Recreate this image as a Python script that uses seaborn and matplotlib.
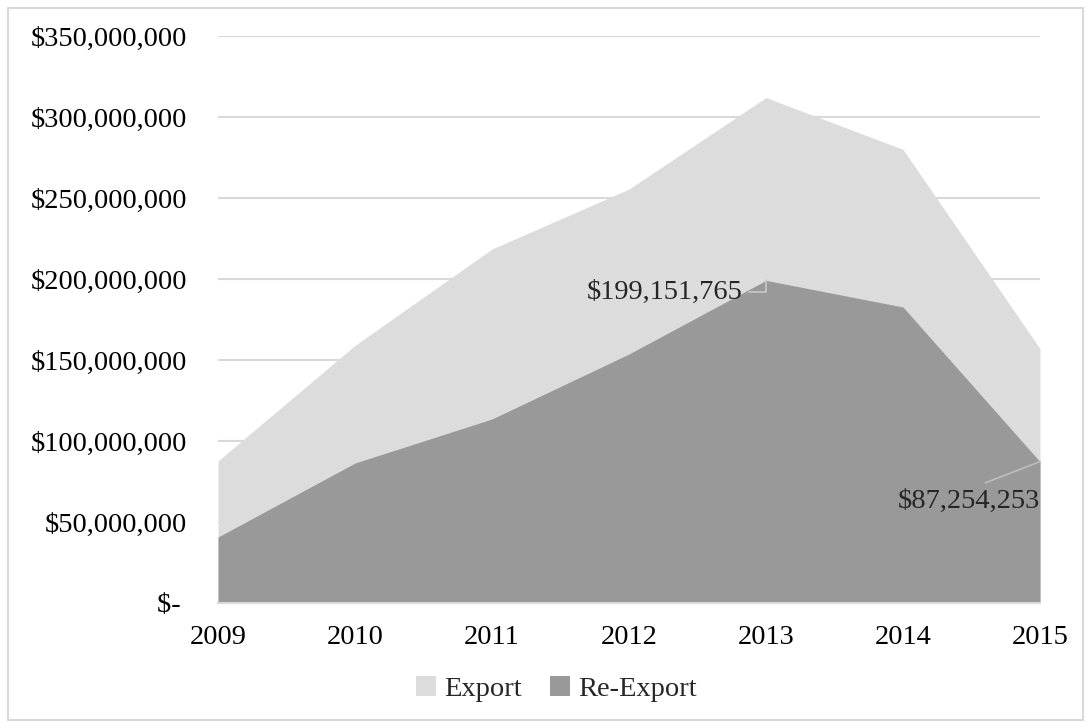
import matplotlib
matplotlib.use("Agg")
import matplotlib.pyplot as plt
import matplotlib.ticker as mticker
from matplotlib.patches import Rectangle
import seaborn as sns
import pandas as pd

years = [2009, 2010, 2011, 2012, 2013, 2014, 2015]
export = [87_700_000, 159_000_000, 218_500_000, 255_500_000, 312_000_000, 280_000_000, 157_000_000]
re_export = [40_700_000, 86_400_000, 113_600_000, 153_700_000, 199_151_765, 182_700_000, 87_254_253]
y_ticks = [0, 50_000_000, 100_000_000, 150_000_000, 200_000_000, 250_000_000, 300_000_000, 350_000_000]

df = pd.DataFrame({"Year": years, "Export": export, "Re-Export": re_export})

sns.set_theme(style="white")
plt.rcParams["font.family"] = ["Liberation Serif", "DejaVu Serif"]

LIGHT = "#DCDCDC"
DARK = "#999999"
GRID = "#D9D9D9"
FS = 20.5

fig = plt.figure(figsize=(10.91, 7.28), dpi=100)
ax = fig.add_axes([218 / 1091, 1 - 603 / 728, (1040 - 218) / 1091, (603 - 36) / 728])

sns.lineplot(data=df, x="Year", y="Export", ax=ax, color=LIGHT, linewidth=0)
sns.lineplot(data=df, x="Year", y="Re-Export", ax=ax, color=DARK, linewidth=0)
ax.fill_between(df["Year"], 0, df["Export"], color=LIGHT, linewidth=0, label="Export", zorder=2)
ax.fill_between(df["Year"], 0, df["Re-Export"], color=DARK, linewidth=0, label="Re-Export", zorder=3)

ax.set_xlim(years[0], years[-1])
ax.set_ylim(0, 350_000_000)
ax.set_yticks(y_ticks)
ax.set_xticks(years)
ax.set_xticklabels([str(y) for y in years])
ax.yaxis.set_major_formatter(mticker.FuncFormatter(lambda v, p: "$- " if v == 0 else f"${v:,.0f}"))
ax.grid(axis="y", color=GRID, linewidth=1.5, zorder=0)
ax.set_axisbelow(True)
for s in ["top", "right", "left"]:
    ax.spines[s].set_visible(False)
ax.spines["bottom"].set_color(GRID)
ax.spines["bottom"].set_linewidth(1.5)
ax.spines["bottom"].set_zorder(5)
ax.tick_params(axis="y", length=0, pad=22, labelsize=FS, labelcolor="black")
ax.tick_params(axis="x", length=0, pad=16, labelsize=FS, labelcolor="black")
ax.set_xlabel("")
ax.set_ylabel("")

# data labels
ax.annotate(f"${re_export[4]:,.0f}", xy=(years[4], re_export[4]), xytext=(-101, -12),
            textcoords="offset pixels", ha="center", va="center", fontsize=FS, zorder=6,
            arrowprops=dict(arrowstyle="-", color="#C8C8C8", lw=1.2,
                            connectionstyle="angle,angleA=0,angleB=90,rad=0",
                            shrinkA=2, shrinkB=0))
ax.annotate(f"${re_export[6]:,.0f}", xy=(years[6], re_export[6]), xytext=(-71, -40),
            textcoords="offset pixels", ha="center", va="center", fontsize=FS, zorder=6,
            arrowprops=dict(arrowstyle="-", color="#BDBDBD", lw=1.2, relpos=(0.5, 1.0),
                            shrinkA=6, shrinkB=0))

handles, labels = ax.get_legend_handles_labels()
fig.legend(handles, labels, loc="center", bbox_to_anchor=(0.51, 1 - 689 / 728), ncol=2,
           frameon=False, fontsize=FS, handlelength=0.7, handleheight=0.7,
           handletextpad=0.3, columnspacing=1.0)

fig.patches.append(Rectangle((8 / 1091, 8 / 728), (1083 - 8) / 1091, (720 - 8) / 728,
                             transform=fig.transFigure, fill=False, edgecolor=GRID, linewidth=1.5))

fig.savefig("out.png", dpi=100)
